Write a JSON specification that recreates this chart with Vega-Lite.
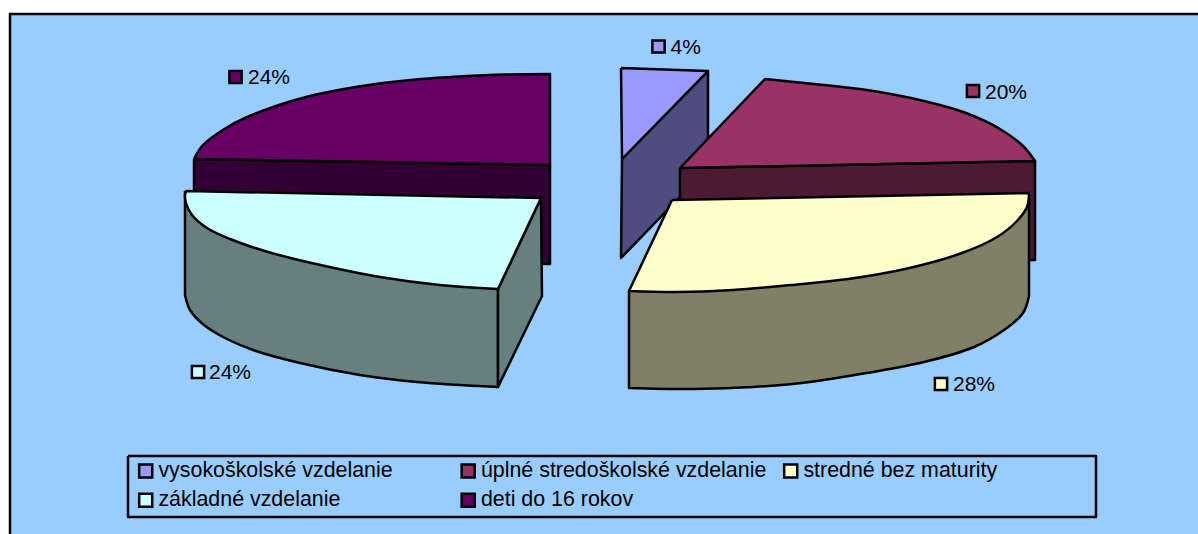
{
"$schema":"https://vega.github.io/schema/vega-lite/v6.json",
"width":1198,"height":534,"padding":0,
"autosize":{"type":"fit","contains":"padding"},
"background":"white",
"config":{"view":{"stroke":null},"font":"Liberation Sans"},
"datasets":{
"faces":[
{"f":"frame","i":0,"x":10,"y":560},{"f":"frame","i":0,"x":10,"y":560},{"f":"frame","i":1,"x":10,"y":14},{"f":"frame","i":1,"x":10,"y":14},{"f":"frame","i":2,"x":1230,"y":14},{"f":"frame","i":2,"x":1230,"y":14},{"f":"frame","i":3,"x":1230,"y":560},{"f":"frame","i":3,"x":1230,"y":560},{"f":"frame","i":4,"x":10,"y":560},{"f":"frame","i":4,"x":10,"y":560},
{"f":"legend_box","i":0,"x":128,"y":456},{"f":"legend_box","i":0,"x":128,"y":456},{"f":"legend_box","i":1,"x":1096,"y":456},{"f":"legend_box","i":1,"x":1096,"y":456},{"f":"legend_box","i":2,"x":1096,"y":517},{"f":"legend_box","i":2,"x":1096,"y":517},{"f":"legend_box","i":3,"x":128,"y":517},{"f":"legend_box","i":3,"x":128,"y":517},{"f":"legend_box","i":4,"x":128,"y":456},{"f":"legend_box","i":4,"x":128,"y":456},
{"f":"deti_side","i":0,"x":194,"y":159},{"f":"deti_side","i":0,"x":194,"y":159},{"f":"deti_side","i":1,"x":550,"y":165},{"f":"deti_side","i":1,"x":550,"y":165},{"f":"deti_side","i":2,"x":550,"y":264},{"f":"deti_side","i":2,"x":550,"y":264},{"f":"deti_side","i":3,"x":194,"y":258},{"f":"deti_side","i":3,"x":194,"y":258},{"f":"deti_side","i":4,"x":194,"y":159},{"f":"deti_side","i":4,"x":194,"y":159},
{"f":"deti_top","i":0,"x":194,"y":159},{"f":"deti_top","i":0,"x":194,"y":159},{"f":"deti_top","i":2,"x":203,"y":145},{"f":"deti_top","i":4,"x":226,"y":128},{"f":"deti_top","i":5,"x":245,"y":118},{"f":"deti_top","i":6,"x":276,"y":106},{"f":"deti_top","i":7,"x":306,"y":97},{"f":"deti_top","i":8,"x":344,"y":89},{"f":"deti_top","i":9,"x":383,"y":83},{"f":"deti_top","i":10,"x":421,"y":79},{"f":"deti_top","i":11,"x":459,"y":76.5},{"f":"deti_top","i":12,"x":505,"y":74.5},{"f":"deti_top","i":13,"x":550,"y":74},{"f":"deti_top","i":13,"x":550,"y":74},{"f":"deti_top","i":14,"x":550,"y":165},{"f":"deti_top","i":14,"x":550,"y":165},{"f":"deti_top","i":15,"x":194,"y":159},{"f":"deti_top","i":15,"x":194,"y":159},
{"f":"vys_side","i":0,"x":622,"y":159},{"f":"vys_side","i":0,"x":622,"y":159},{"f":"vys_side","i":1,"x":708,"y":71},{"f":"vys_side","i":1,"x":708,"y":71},{"f":"vys_side","i":2,"x":708,"y":168},{"f":"vys_side","i":2,"x":708,"y":168},{"f":"vys_side","i":3,"x":621,"y":258},{"f":"vys_side","i":3,"x":621,"y":258},{"f":"vys_side","i":4,"x":622,"y":159},{"f":"vys_side","i":4,"x":622,"y":159},
{"f":"vys_top","i":0,"x":621,"y":68},{"f":"vys_top","i":0,"x":621,"y":68},{"f":"vys_top","i":1,"x":708,"y":71},{"f":"vys_top","i":1,"x":708,"y":71},{"f":"vys_top","i":2,"x":622,"y":159},{"f":"vys_top","i":2,"x":622,"y":159},{"f":"vys_top","i":3,"x":621,"y":68},{"f":"vys_top","i":3,"x":621,"y":68},
{"f":"upl_side","i":0,"x":680,"y":168},{"f":"upl_side","i":0,"x":680,"y":168},{"f":"upl_side","i":1,"x":1035,"y":161},{"f":"upl_side","i":1,"x":1035,"y":161},{"f":"upl_side","i":2,"x":1035,"y":260},{"f":"upl_side","i":2,"x":1035,"y":260},{"f":"upl_side","i":3,"x":680,"y":266},{"f":"upl_side","i":3,"x":680,"y":266},{"f":"upl_side","i":4,"x":680,"y":168},{"f":"upl_side","i":4,"x":680,"y":168},
{"f":"upl_top","i":0,"x":680,"y":168},{"f":"upl_top","i":0,"x":680,"y":168},{"f":"upl_top","i":1,"x":765,"y":79},{"f":"upl_top","i":1,"x":765,"y":79},{"f":"upl_top","i":2,"x":814,"y":84},{"f":"upl_top","i":3,"x":867,"y":90},{"f":"upl_top","i":4,"x":924,"y":101},{"f":"upl_top","i":5,"x":966,"y":113},{"f":"upl_top","i":6,"x":1000,"y":129},{"f":"upl_top","i":7,"x":1023,"y":146},{"f":"upl_top","i":8,"x":1035,"y":161},{"f":"upl_top","i":8,"x":1035,"y":161},{"f":"upl_top","i":9,"x":680,"y":168},{"f":"upl_top","i":9,"x":680,"y":168},
{"f":"zak_side","i":0,"x":185,"y":191},{"f":"zak_side","i":0,"x":185,"y":191},{"f":"zak_side","i":1,"x":498,"y":289},{"f":"zak_side","i":1,"x":498,"y":289},{"f":"zak_side","i":2,"x":498,"y":387},{"f":"zak_side","i":2,"x":498,"y":387},{"f":"zak_side","i":3,"x":417,"y":382},{"f":"zak_side","i":4,"x":360,"y":375},{"f":"zak_side","i":5,"x":300,"y":363},{"f":"zak_side","i":6,"x":253,"y":350},{"f":"zak_side","i":7,"x":225,"y":338},{"f":"zak_side","i":8,"x":204,"y":325},{"f":"zak_side","i":9,"x":190,"y":310},{"f":"zak_side","i":10,"x":185,"y":295},{"f":"zak_side","i":10,"x":185,"y":295},{"f":"zak_side","i":11,"x":185,"y":191},{"f":"zak_side","i":11,"x":185,"y":191},
{"f":"zak_wall","i":0,"x":498,"y":289},{"f":"zak_wall","i":0,"x":498,"y":289},{"f":"zak_wall","i":1,"x":541,"y":198},{"f":"zak_wall","i":1,"x":541,"y":198},{"f":"zak_wall","i":2,"x":542,"y":296},{"f":"zak_wall","i":2,"x":542,"y":296},{"f":"zak_wall","i":3,"x":498,"y":387},{"f":"zak_wall","i":3,"x":498,"y":387},{"f":"zak_wall","i":4,"x":498,"y":289},{"f":"zak_wall","i":4,"x":498,"y":289},
{"f":"zak_top","i":0,"x":186,"y":191},{"f":"zak_top","i":0,"x":186,"y":191},{"f":"zak_top","i":1,"x":541,"y":198},{"f":"zak_top","i":1,"x":541,"y":198},{"f":"zak_top","i":2,"x":498,"y":289},{"f":"zak_top","i":2,"x":498,"y":289},{"f":"zak_top","i":3,"x":440,"y":285},{"f":"zak_top","i":4,"x":380,"y":277},{"f":"zak_top","i":5,"x":325,"y":266},{"f":"zak_top","i":6,"x":268,"y":252},{"f":"zak_top","i":7,"x":230,"y":239},{"f":"zak_top","i":8,"x":207,"y":228},{"f":"zak_top","i":9,"x":192,"y":215},{"f":"zak_top","i":10,"x":186,"y":203},{"f":"zak_top","i":11,"x":185,"y":196},{"f":"zak_top","i":12,"x":186,"y":191},{"f":"zak_top","i":12,"x":186,"y":191},
{"f":"str_side","i":0,"x":629,"y":291},{"f":"str_side","i":0,"x":629,"y":291},{"f":"str_side","i":1,"x":1029,"y":200},{"f":"str_side","i":1,"x":1029,"y":200},{"f":"str_side","i":2,"x":1029,"y":296},{"f":"str_side","i":2,"x":1029,"y":296},{"f":"str_side","i":3,"x":1023,"y":313},{"f":"str_side","i":4,"x":1004,"y":330},{"f":"str_side","i":5,"x":974,"y":347},{"f":"str_side","i":6,"x":924,"y":362},{"f":"str_side","i":7,"x":867,"y":373},{"f":"str_side","i":8,"x":810,"y":382},{"f":"str_side","i":9,"x":753,"y":387},{"f":"str_side","i":10,"x":695,"y":389},{"f":"str_side","i":11,"x":629,"y":388},{"f":"str_side","i":11,"x":629,"y":388},{"f":"str_side","i":12,"x":629,"y":291},{"f":"str_side","i":12,"x":629,"y":291},
{"f":"str_top","i":0,"x":672,"y":200},{"f":"str_top","i":0,"x":672,"y":200},{"f":"str_top","i":1,"x":1029,"y":193},{"f":"str_top","i":1,"x":1029,"y":193},{"f":"str_top","i":2,"x":1027,"y":207},{"f":"str_top","i":3,"x":1016,"y":222},{"f":"str_top","i":4,"x":997,"y":237},{"f":"str_top","i":5,"x":962,"y":253},{"f":"str_top","i":6,"x":905,"y":269},{"f":"str_top","i":7,"x":848,"y":279},{"f":"str_top","i":8,"x":791,"y":285},{"f":"str_top","i":9,"x":733,"y":290},{"f":"str_top","i":10,"x":676,"y":292},{"f":"str_top","i":11,"x":629,"y":291},{"f":"str_top","i":11,"x":629,"y":291},{"f":"str_top","i":12,"x":672,"y":200},{"f":"str_top","i":12,"x":672,"y":200}
],
"labels":[
{"category":"vysokoškolské vzdelanie","share":"4%","sx":658.5,"sy":46.5,"tx":670.5,"ty":54},
{"category":"úplné stredoškolské vzdelanie","share":"20%","sx":973,"sy":91,"tx":985,"ty":98.5},
{"category":"stredné bez maturity","share":"28%","sx":941,"sy":384,"tx":953,"ty":391},
{"category":"základné vzdelanie","share":"24%","sx":198,"sy":372,"tx":209,"ty":379},
{"category":"deti do 16 rokov","share":"24%","sx":235.5,"sy":77,"tx":248,"ty":84}
]
},
"layer":[
{"data":{"name":"faces"},
"mark":{"type":"line","interpolate":"catmull-rom","stroke":"black","strokeWidth":2.5,"strokeJoin":"round","clip":true},
"encoding":{
"x":{"field":"x","type":"quantitative","scale":{"domain":[0,1198],"nice":false,"zero":false},"axis":null},
"y":{"field":"y","type":"quantitative","scale":{"domain":[534,0],"nice":false,"zero":false},"axis":null},
"order":{"field":"i"},
"detail":{"field":"f"},
"fill":{"field":"f","type":"nominal","legend":null,"scale":{
"domain":["frame","legend_box","deti_side","deti_top","vys_side","vys_top","upl_side","upl_top","zak_side","zak_wall","zak_top","str_side","str_top"],
"range":["#99CCFF","#99CCFF","#330033","#660066","#4D4D80","#9999FF","#4D1A33","#993366","#668080","#668080","#CCFFFF","#808066","#FFFFCC"]}}
}},
{"data":{"name":"labels"},
"mark":{"type":"point","shape":"square","filled":true,"size":150,"stroke":"black","strokeWidth":2.5,"opacity":1},
"encoding":{
"x":{"field":"sx","type":"quantitative","scale":{"domain":[0,1198],"nice":false,"zero":false},"axis":null},
"y":{"field":"sy","type":"quantitative","scale":{"domain":[534,0],"nice":false,"zero":false},"axis":null},
"fill":{"field":"category","type":"nominal","scale":{
"domain":["vysokoškolské vzdelanie","úplné stredoškolské vzdelanie","stredné bez maturity","základné vzdelanie","deti do 16 rokov"],
"range":["#9999FF","#993366","#FFFFCC","#CCFFFF","#660066"]},
"legend":{"title":null,"orient":"none","legendX":128,"legendY":453,"direction":"horizontal","columns":3,"gridAlign":"all","columnPadding":12.5,"rowPadding":5.5,"padding":7,"symbolType":"square","symbolSize":170,"symbolStrokeColor":"black","symbolStrokeWidth":2.5,"symbolOpacity":1,"labelFont":"Liberation Sans","labelFontSize":21.4,"labelColor":"black","labelLimit":400,"labelOffset":2}}
}},
{"data":{"name":"labels"},
"mark":{"type":"text","align":"left","baseline":"alphabetic","font":"Liberation Sans","fontSize":21,"color":"black"},
"encoding":{
"x":{"field":"tx","type":"quantitative","scale":{"domain":[0,1198],"nice":false,"zero":false},"axis":null},
"y":{"field":"ty","type":"quantitative","scale":{"domain":[534,0],"nice":false,"zero":false},"axis":null},
"text":{"field":"share","type":"nominal"}
}}
],
"resolve":{"scale":{"fill":"independent"}}
}
